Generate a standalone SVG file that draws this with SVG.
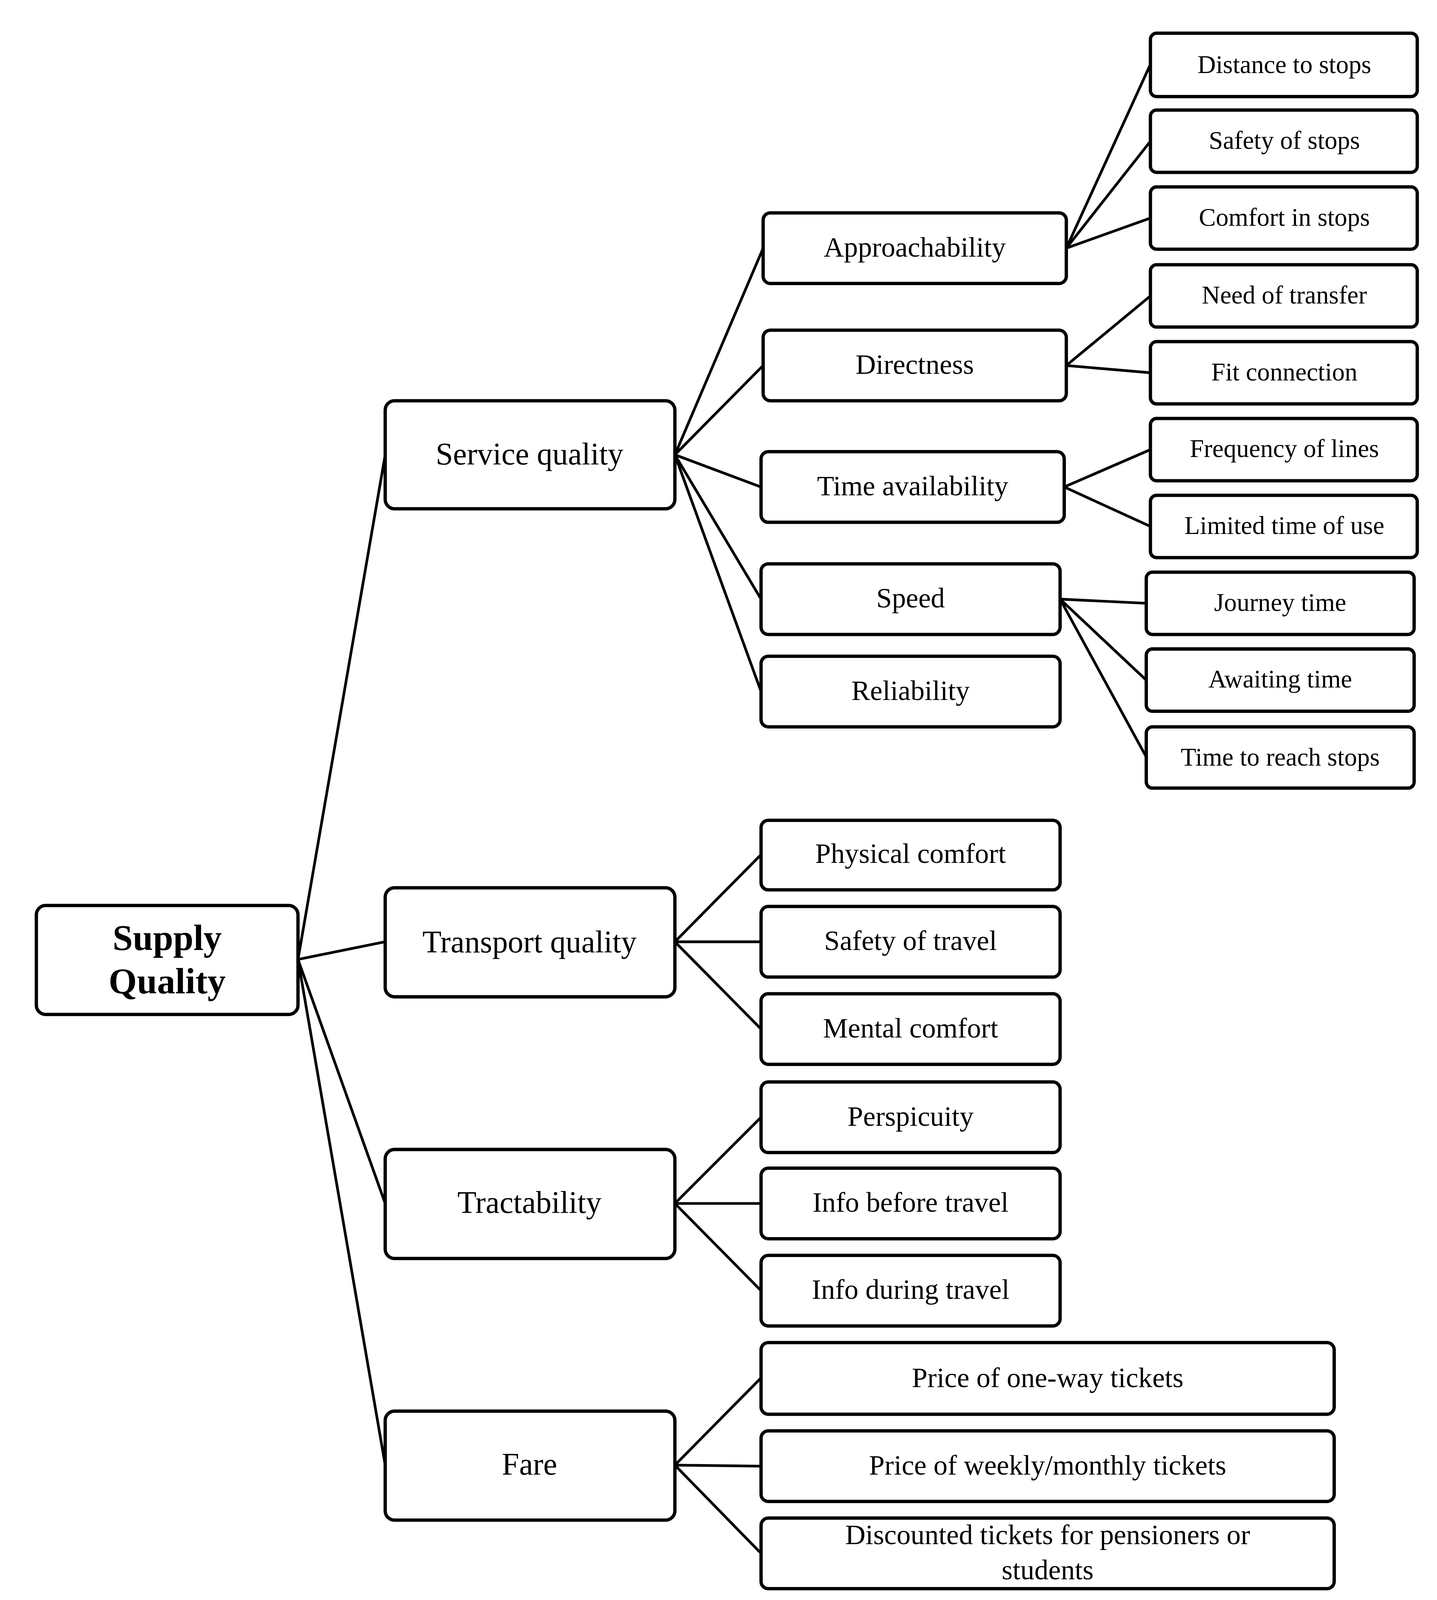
<svg xmlns="http://www.w3.org/2000/svg" width="3679" height="4135" viewBox="0 0 3679 4135">
<style>
rect{fill:#fff;stroke:#000;stroke-width:3.2}
text{font-family:"Liberation Serif","DejaVu Serif",serif;text-anchor:middle;dominant-baseline:central;fill:#000}
.l0{font-size:35px;font-weight:bold}
.l1{font-size:30px}
.l2{font-size:27px}
.l3{font-size:24.5px}
#connectors line{stroke:#000;stroke-width:2.6}
</style>
<rect x="0" y="0" width="3679" height="4135" style="fill:#fff;stroke:none"/>
<g transform="scale(2.6582)">
<g id="connectors">
<line x1="287" y1="924" x2="371" y2="438"/>
<line x1="287" y1="924" x2="371" y2="907"/>
<line x1="287" y1="924" x2="371" y2="1159"/>
<line x1="287" y1="924" x2="371" y2="1411"/>
<line x1="650" y1="438" x2="735" y2="239"/>
<line x1="650" y1="438" x2="735" y2="352"/>
<line x1="650" y1="438" x2="733" y2="469"/>
<line x1="650" y1="438" x2="733" y2="577"/>
<line x1="650" y1="438" x2="733" y2="666"/>
<line x1="650" y1="907" x2="733" y2="823"/>
<line x1="650" y1="907" x2="733" y2="907"/>
<line x1="650" y1="907" x2="733" y2="991"/>
<line x1="650" y1="1159" x2="733" y2="1076"/>
<line x1="650" y1="1159" x2="733" y2="1159"/>
<line x1="650" y1="1159" x2="733" y2="1243"/>
<line x1="650" y1="1411" x2="733" y2="1327"/>
<line x1="650" y1="1411" x2="733" y2="1412"/>
<line x1="650" y1="1411" x2="733" y2="1496"/>
<line x1="1027" y1="239" x2="1108" y2="62"/>
<line x1="1027" y1="239" x2="1108" y2="136"/>
<line x1="1027" y1="239" x2="1108" y2="210"/>
<line x1="1027" y1="352" x2="1108" y2="285"/>
<line x1="1027" y1="352" x2="1108" y2="359"/>
<line x1="1025" y1="469" x2="1108" y2="433"/>
<line x1="1025" y1="469" x2="1108" y2="507"/>
<line x1="1021" y1="577" x2="1104" y2="581"/>
<line x1="1021" y1="577" x2="1104" y2="655"/>
<line x1="1021" y1="577" x2="1104" y2="729"/>
</g>
<g id="n-supply"><rect x="35" y="872" width="252" height="105" rx="9"/><text class="l0" x="161" y="903">Supply</text><text class="l0" x="161" y="945">Quality</text></g>
<g id="n-service"><rect x="371" y="386" width="279" height="104" rx="9"/><text class="l1" x="510" y="437">Service quality</text></g>
<g id="n-transport"><rect x="371" y="855" width="279" height="105" rx="9"/><text class="l1" x="510" y="907">Transport quality</text></g>
<g id="n-tract"><rect x="371" y="1107" width="279" height="105" rx="9"/><text class="l1" x="510" y="1158">Tractability</text></g>
<g id="n-fare"><rect x="371" y="1359" width="279" height="105" rx="9"/><text class="l1" x="510" y="1410">Fare</text></g>
<g id="n-approach"><rect x="735" y="205" width="292" height="68" rx="7"/><text class="l2" x="881" y="238">Approachability</text></g>
<g id="n-direct"><rect x="735" y="318" width="292" height="68" rx="7"/><text class="l2" x="881" y="351">Directness</text></g>
<g id="n-timeav"><rect x="733" y="435" width="292" height="68" rx="7"/><text class="l2" x="879" y="468">Time availability</text></g>
<g id="n-speed"><rect x="733" y="543" width="288" height="68" rx="7"/><text class="l2" x="877" y="576">Speed</text></g>
<g id="n-reliab"><rect x="733" y="632" width="288" height="68" rx="7"/><text class="l2" x="877" y="665">Reliability</text></g>
<g id="n-phys"><rect x="733" y="790" width="288" height="67" rx="7"/><text class="l2" x="877" y="822">Physical comfort</text></g>
<g id="n-safetyt"><rect x="733" y="873" width="288" height="68" rx="7"/><text class="l2" x="877" y="906">Safety of travel</text></g>
<g id="n-mental"><rect x="733" y="957" width="288" height="68" rx="7"/><text class="l2" x="877" y="990">Mental comfort</text></g>
<g id="n-persp"><rect x="733" y="1042" width="288" height="68" rx="7"/><text class="l2" x="877" y="1075">Perspicuity</text></g>
<g id="n-infob"><rect x="733" y="1125" width="288" height="68" rx="7"/><text class="l2" x="877" y="1158">Info before travel</text></g>
<g id="n-infod"><rect x="733" y="1209" width="288" height="68" rx="7"/><text class="l2" x="877" y="1242">Info during travel</text></g>
<g id="n-oneway"><rect x="733" y="1293" width="552" height="69" rx="7"/><text class="l2" x="1009" y="1327">Price of one-way tickets</text></g>
<g id="n-weekly"><rect x="733" y="1378" width="552" height="68" rx="7"/><text class="l2" x="1009" y="1411">Price of weekly/monthly tickets</text></g>
<g id="n-disc"><rect x="733" y="1462" width="552" height="68" rx="7"/><text class="l2" x="1009" y="1478">Discounted tickets for pensioners or</text><text class="l2" x="1009" y="1512">students</text></g>
<g id="n-dist"><rect x="1108" y="32" width="257" height="61" rx="6"/><text class="l3" x="1237" y="62">Distance to stops</text></g>
<g id="n-safes"><rect x="1108" y="106" width="257" height="60" rx="6"/><text class="l3" x="1237" y="135">Safety of stops</text></g>
<g id="n-comfs"><rect x="1108" y="180" width="257" height="60" rx="6"/><text class="l3" x="1237" y="209">Comfort in stops</text></g>
<g id="n-need"><rect x="1108" y="255" width="257" height="60" rx="6"/><text class="l3" x="1237" y="284">Need of transfer</text></g>
<g id="n-fit"><rect x="1108" y="329" width="257" height="60" rx="6"/><text class="l3" x="1237" y="358">Fit connection</text></g>
<g id="n-freq"><rect x="1108" y="403" width="257" height="60" rx="6"/><text class="l3" x="1237" y="432">Frequency of lines</text></g>
<g id="n-limit"><rect x="1108" y="477" width="257" height="60" rx="6"/><text class="l3" x="1237" y="506">Limited time of use</text></g>
<g id="n-journey"><rect x="1104" y="551" width="258" height="60" rx="6"/><text class="l3" x="1233" y="580">Journey time</text></g>
<g id="n-await"><rect x="1104" y="625" width="258" height="60" rx="6"/><text class="l3" x="1233" y="654">Awaiting time</text></g>
<g id="n-reach"><rect x="1104" y="700" width="258" height="59" rx="6"/><text class="l3" x="1233" y="729">Time to reach stops</text></g>
</g>
</svg>
